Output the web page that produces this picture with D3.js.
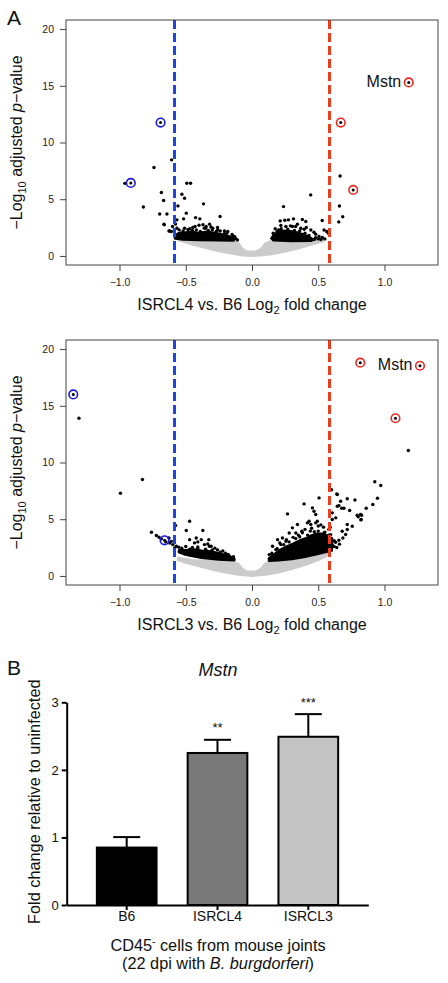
<!DOCTYPE html>
<html><head><meta charset="utf-8">
<script src="https://cdn.jsdelivr.net/npm/d3@7"></script>
<style>
body{margin:0;background:#fff}
svg{display:block}
text{font-family:"Liberation Sans",Arial,Helvetica,sans-serif}
</style>
</head><body>
<svg id="chart" width="448" height="983"></svg>
<script>
// ---------------- DATA ----------------
const xTicks = [-1.0, -0.5, 0.0, 0.5, 1.0];
const yTicks = [0, 5, 10, 15, 20];
const fcThreshold = 0.585;

// Panel A1: ISRCL4 vs B6
const p1Label = "ISRCL4";
const p1Points = [
  [-0.96,6.4],[-0.74,7.8],[-0.607,8.47],[-0.82,4.32],[-0.684,5.59],[-0.667,4.88],[-0.697,3.7],[-0.642,3.7],
  [-0.662,2.74],[-0.627,2.2],[-0.609,2.15],[-0.529,5.44],[-0.509,5.09],[-0.559,4.41],[-0.492,6.41],[-0.464,6.41],
  [-0.366,4.59],[-0.241,3.47],[-0.567,3.18],[-0.577,2.82],[-0.496,3.77],[-0.516,3.27],[-0.426,3.38],[-0.394,3.27],
  [-0.32,2.8],[-0.60,2.6],[-0.567,2.44],[-0.509,2.44],[-0.484,2.32],[-0.447,2.5],[-0.346,2.59],[-0.296,2.44],
  [-0.259,2.29],[-0.208,2.2],[-0.183,2.15],[-0.40,2.7],[-0.43,2.6],[-0.37,2.75],[-0.26,2.5],[-0.15,1.9],
  [-0.13,1.7],[-0.54,2.0],[-0.56,1.9],[-0.58,1.75],[-0.665,2.8],[-0.62,2.2],[-0.35,2.45],[-0.31,2.55],
  [-0.55,2.3],[-0.47,2.4],[-0.42,2.3],[-0.36,2.45],[-0.3,2.3],[-0.24,2.2],[-0.19,2.0],[-0.14,1.75],
  [-0.52,2.2],[-0.45,2.25],[-0.39,2.15],[-0.33,2.25],[-0.27,2.15],[-0.21,1.95],[-0.12,1.5],[-0.11,1.4],
  [0.443,5.38],[0.238,4.35],[0.66,4.4],[0.665,7.05],[0.685,3.45],[0.655,3.0],[0.53,3.12],[0.213,3.09],
  [0.248,3.15],[0.275,3.18],[0.313,3.27],[0.38,3.21],[0.406,3.03],[0.343,2.8],[0.305,2.59],[0.218,2.68],
  [0.256,2.59],[0.368,2.44],[0.393,2.35],[0.444,2.29],[0.481,1.92],[0.544,2.29],[0.564,2.15],[0.531,1.62],
  [0.506,1.71],[0.468,2.09],[0.57,2.1],[0.58,1.95],[0.55,1.5],[0.50,1.5],[0.47,1.45],[0.20,2.3],
  [0.16,2.0],[0.16,1.7],[0.175,2.4],[0.29,2.65],[0.33,2.6],[0.41,2.5],[0.19,2.15],[0.22,2.4],
  [0.27,2.35],[0.32,2.25],[0.36,2.2],[0.4,2.0],[0.43,1.8],[0.15,1.55],[0.52,1.45],[0.48,1.6]
];
const p1Up = [[0.67,11.76,""],[0.764,5.82,""],[1.183,15.3,"Mstn"]];
const p1Down = [[-0.69,11.76,""],[-0.915,6.44,""]];
const p1GreyTop = [[-0.55,1.5],[-0.45,1.4],[-0.3,1.35],[-0.15,1.3],[-0.1,1.1],[-0.07,0.6],[-0.04,0.4],[0.03,0.4],[0.07,0.65],[0.1,1.1],[0.14,1.3],[0.3,1.3],[0.45,1.35],[0.54,1.45]];
const p1GreyBottom = [[0.54,1.3],[0.45,1.0],[0.35,0.65],[0.25,0.38],[0.15,0.15],[0.07,0.04],[0,0.0],[-0.07,0.04],[-0.15,0.2],[-0.25,0.4],[-0.35,0.7],[-0.45,1.0],[-0.55,1.35]];
const p1DenseLeftTop = [[-0.58,1.75],[-0.55,2.0],[-0.5,2.05],[-0.45,2.1],[-0.4,2.0],[-0.34,2.1],[-0.28,2.0],[-0.22,1.85],[-0.17,1.7],[-0.14,1.5]];
const p1DenseLeftBottom = [[-0.14,1.38],[-0.25,1.4],[-0.4,1.43],[-0.52,1.47],[-0.58,1.55]];
const p1DenseRightTop = [[0.16,1.75],[0.19,2.05],[0.23,2.2],[0.29,2.15],[0.34,2.05],[0.38,1.9],[0.42,1.7],[0.45,1.5]];
const p1DenseRightBottom = [[0.45,1.37],[0.3,1.33],[0.16,1.4]];

// Panel A2: ISRCL3 vs B6
const p2Label = "ISRCL3";
const p2Points = [
  [-1.306,13.9],[-0.993,7.29],[-0.827,8.5],[-0.471,4.82],[-0.577,4.44],[-0.496,4.0],[-0.371,4.0],[-0.759,3.85],
  [-0.722,3.56],[-0.702,3.41],[-0.684,3.27],[-0.627,3.35],[-0.609,3.05],[-0.597,2.76],[-0.571,2.61],[-0.584,2.47],
  [-0.552,2.53],[-0.421,3.35],[-0.383,3.2],[-0.326,3.2],[-0.409,3.0],[-0.359,2.76],[-0.334,2.82],[-0.308,2.61],
  [-0.534,2.17],[-0.509,1.94],[-0.17,1.73],[-0.146,1.59],[-0.471,3.2],[-0.434,2.91],[-0.321,2.61],[-0.409,2.56],
  [-0.65,3.0],[-0.62,2.9],[-0.50,2.6],[-0.45,2.5],[-0.26,2.3],[-0.22,2.2],[-0.20,2.0],[-0.28,2.45],
  [-0.53,2.45],[-0.47,2.35],[-0.41,2.45],[-0.35,2.35],[-0.3,2.3],[-0.24,2.1],[-0.18,1.9],[-0.14,1.7],
  [1.18,11.06],[0.927,8.3],[0.972,7.97],[0.947,6.85],[0.912,6.3],[0.862,5.97],[0.827,5.35],[0.794,5.35],
  [0.822,4.94],[0.777,6.7],[0.719,6.8],[0.64,7.23],[0.60,7.6],[0.644,7.18],[0.669,6.58],[0.656,6.2],
  [0.677,5.97],[0.694,5.97],[0.737,5.77],[0.819,5.41],[0.802,5.21],[0.824,4.97],[0.644,6.14],[0.606,5.56],
  [0.632,5.12],[0.606,4.97],[0.757,4.38],[0.719,4.53],[0.719,4.09],[0.681,3.94],[0.707,3.65],[0.686,3.35],
  [0.656,3.14],[0.631,2.97],[0.606,2.76],[0.576,2.47],[0.556,2.17],[0.594,3.64],[0.569,3.5],[0.519,3.2],
  [0.544,3.79],[0.268,5.47],[0.393,6.35],[0.506,6.88],[0.456,6.0],[0.468,5.7],[0.481,5.41],[0.431,4.82],
  [0.418,4.68],[0.444,4.53],[0.493,4.82],[0.481,4.68],[0.343,4.53],[0.305,4.24],[0.376,3.94],[0.331,3.79],
  [0.281,3.79],[0.193,3.2],[0.23,3.35],[0.155,2.61],[0.18,2.32],[0.13,1.88],[0.218,2.76],[0.256,3.06],
  [0.59,4.3],[0.58,4.1],[0.60,3.3],[0.62,3.1],[0.64,2.5],[0.66,2.8],[0.54,4.3],[0.52,4.5],
  [0.50,4.4],[0.45,4.2],[0.40,4.1],[0.38,3.8],[0.60,2.3],[0.62,2.6],[0.59,2.9],
  [0.15,2.0],[0.19,2.4],[0.24,2.75],[0.28,3.0],[0.33,3.3],[0.36,3.45],[0.42,3.6],[0.47,3.9],
  [0.5,3.95],[0.55,3.85],[0.58,3.6],[0.35,3.6],[0.31,3.4],[0.26,3.2],[0.21,2.9],[0.44,3.95]
];
const p2Up = [[0.817,18.8,""],[1.268,18.53,"Mstn"],[1.083,13.9,""]];
const p2Down = [[-1.349,16.0,""],[-0.66,3.14,""]];
const p2GreyTop = [[-0.56,1.6],[-0.45,1.4],[-0.3,1.35],[-0.15,1.3],[-0.1,1.05],[-0.07,0.6],[-0.04,0.4],[0.03,0.4],[0.07,0.65],[0.1,1.1],[0.14,1.3],[0.3,1.45],[0.45,1.75],[0.59,2.15]];
const p2GreyBottom = [[0.59,1.9],[0.5,1.4],[0.4,0.95],[0.3,0.6],[0.2,0.3],[0.1,0.1],[0,0],[-0.1,0.1],[-0.2,0.3],[-0.3,0.55],[-0.4,0.85],[-0.5,1.15],[-0.56,1.4]];
const p2DenseLeftTop = [[-0.55,2.25],[-0.5,2.25],[-0.44,2.3],[-0.38,2.2],[-0.32,2.15],[-0.26,2.0],[-0.2,1.8],[-0.15,1.6],[-0.135,1.5]];
const p2DenseLeftBottom = [[-0.135,1.4],[-0.25,1.47],[-0.38,1.63],[-0.48,1.85],[-0.55,2.1]];
const p2DenseRightTop = [[0.13,1.55],[0.17,1.9],[0.21,2.25],[0.26,2.55],[0.31,2.8],[0.36,3.1],[0.41,3.3],[0.45,3.55],[0.49,3.7],[0.53,3.7],[0.57,3.5],[0.6,3.2]];
const p2DenseRightBottom = [[0.6,2.25],[0.5,1.97],[0.4,1.72],[0.3,1.52],[0.2,1.4],[0.13,1.35]];

// Panel B: bar chart
const barCategories = ["B6", "ISRCL4", "ISRCL3"];
const barMeans = [0.85, 2.25, 2.49];
const barErrors = [0.155, 0.195, 0.335];
const barSignif = ["", "**", "***"];
const barTicks = [0, 1, 2, 3];

// ---------------- DRAWING ----------------
const svg = d3.select("#chart");
const FONT = '"Liberation Sans",Arial,Helvetica,sans-serif';

function volcano(top, d) {
  const x = d3.scaleLinear().domain([-1.404, 1.404]).range([66, 438]);
  const y = d3.scaleLinear().domain([-0.8, 20.8]).range([top + 245, top]);
  const g = svg.append("g");
  const line = d3.line().x(p => x(p[0])).y(p => y(p[1])).curve(d3.curveLinearClosed);

  g.append("path").attr("d", line(d.greyTop.concat(d.greyBottom)))
    .attr("fill", "#cbcbcb").attr("stroke", "#cbcbcb").attr("stroke-width", 2).attr("stroke-linejoin", "round");

  [[d.denseLT, d.denseLB], [d.denseRT, d.denseRB]].forEach(([t, b]) => {
    g.append("path").attr("d", line(t.concat(b)))
      .attr("fill", "#000").attr("stroke", "#000").attr("stroke-width", 3).attr("stroke-linejoin", "round");
  });

  g.selectAll("circle.pt").data(d.points).join("circle").attr("class", "pt")
    .attr("cx", p => x(p[0])).attr("cy", p => y(p[1])).attr("r", 1.7).attr("fill", "#000");

  // threshold lines
  [[-fcThreshold, "#1f45e0"], [fcThreshold, "#e8401e"]].forEach(([v, c]) => {
    g.append("line").attr("x1", x(v)).attr("x2", x(v)).attr("y1", top).attr("y2", top + 245)
      .attr("stroke", c).attr("stroke-width", 3).attr("stroke-dasharray", "9,4");
  });

  // highlighted genes
  [[d.up, "#e62a20"], [d.down, "#1a1ad8"]].forEach(([arr, c]) => {
    const gg = g.append("g");
    gg.selectAll("circle.ring").data(arr).join("circle").attr("class", "ring")
      .attr("cx", p => x(p[0])).attr("cy", p => y(p[1])).attr("r", 4.3)
      .attr("fill", "none").attr("stroke", c).attr("stroke-width", 1.6);
    gg.selectAll("circle.dot").data(arr).join("circle").attr("class", "dot")
      .attr("cx", p => x(p[0])).attr("cy", p => y(p[1])).attr("r", 1.5).attr("fill", "#000");
    gg.selectAll("text").data(arr.filter(p => p[2])).join("text")
      .attr("x", p => x(p[0]) - 7.5).attr("y", p => y(p[1]) + 4.5)
      .attr("text-anchor", "end").attr("font-size", 16).attr("fill", "#111").text(p => p[2]);
  });

  // box
  g.append("rect").attr("x", 66).attr("y", top).attr("width", 372).attr("height", 245)
    .attr("fill", "none").attr("stroke", "#444").attr("stroke-width", 1);

  // axes
  const ax = g.append("g").attr("transform", `translate(0,${top + 245})`)
    .call(d3.axisBottom(x).tickValues(xTicks).tickSize(6).tickPadding(8).tickFormat(d3.format(".1f")));
  const ay = g.append("g").attr("transform", `translate(66,0)`)
    .call(d3.axisLeft(y).tickValues(yTicks).tickSize(6).tickPadding(6).tickFormat(d3.format("d")));
  [ax, ay].forEach(a => {
    a.select(".domain").remove();
    a.selectAll("line").attr("stroke", "#444");
    a.selectAll("text").attr("font-size", 10.5).attr("fill", "#222").attr("font-family", FONT);
  });

  // x title
  const xt = g.append("text").attr("x", 252).attr("y", top + 290).attr("text-anchor", "middle")
    .attr("font-size", 16).attr("fill", "#111");
  xt.append("tspan").text(d.label + " vs. B6 Log");
  xt.append("tspan").attr("font-size", 11).attr("dy", 4).text("2");
  xt.append("tspan").attr("dy", -4).text(" fold change");

  // y title
  const yt = g.append("text").attr("transform", `translate(22,${top + 122.5}) rotate(-90)`)
    .attr("text-anchor", "middle").attr("font-size", 16).attr("fill", "#111");
  yt.append("tspan").text("\u2212Log");
  yt.append("tspan").attr("font-size", 11).attr("dy", 4).text("10");
  yt.append("tspan").attr("dy", -4).text(" adjusted ");
  yt.append("tspan").attr("font-style", "italic").text("p");
  yt.append("tspan").text("\u2212value");
}

volcano(20, {label: p1Label, points: p1Points, up: p1Up, down: p1Down,
  greyTop: p1GreyTop, greyBottom: p1GreyBottom,
  denseLT: p1DenseLeftTop, denseLB: p1DenseLeftBottom, denseRT: p1DenseRightTop, denseRB: p1DenseRightBottom});
volcano(340, {label: p2Label, points: p2Points, up: p2Up, down: p2Down,
  greyTop: p2GreyTop, greyBottom: p2GreyBottom,
  denseLT: p2DenseLeftTop, denseLB: p2DenseLeftBottom, denseRT: p2DenseRightTop, denseRB: p2DenseRightBottom});

// panel letters
svg.append("text").attr("x", 7).attr("y", 25).attr("font-size", 21).attr("fill", "#111").text("A");
svg.append("text").attr("x", 7).attr("y", 675).attr("font-size", 21).attr("fill", "#111").text("B");

// ---- bar chart ----
const xb = d3.scaleBand().domain(barCategories).range([66.7, 368.3]).paddingInner(0.3205).paddingOuter(0.321);
const yb = d3.scaleLinear().domain([0, 3]).range([905, 702.3]);
const fill = d3.scaleOrdinal(barCategories, ["#000000", "#787878", "#c3c3c3"]);
const bars = barCategories.map((c, i) => ({c, m: barMeans[i], e: barErrors[i], s: barSignif[i]}));
const gb = svg.append("g");

gb.selectAll("line.err").data(bars).join("line").attr("class", "err")
  .attr("x1", d => xb(d.c) + xb.bandwidth() / 2).attr("x2", d => xb(d.c) + xb.bandwidth() / 2)
  .attr("y1", d => yb(d.m)).attr("y2", d => yb(d.m + d.e)).attr("stroke", "#000").attr("stroke-width", 2);
gb.selectAll("line.cap").data(bars).join("line").attr("class", "cap")
  .attr("x1", d => xb(d.c) + xb.bandwidth() / 2 - 13.5).attr("x2", d => xb(d.c) + xb.bandwidth() / 2 + 13.5)
  .attr("y1", d => yb(d.m + d.e)).attr("y2", d => yb(d.m + d.e)).attr("stroke", "#000").attr("stroke-width", 2);
gb.selectAll("rect").data(bars).join("rect")
  .attr("x", d => xb(d.c) + 1).attr("width", xb.bandwidth() - 2)
  .attr("y", d => yb(d.m)).attr("height", d => yb(0) - yb(d.m))
  .attr("fill", d => fill(d.c)).attr("stroke", "#000").attr("stroke-width", 2);
gb.selectAll("text.sig").data(bars).join("text").attr("class", "sig")
  .attr("x", d => xb(d.c) + xb.bandwidth() / 2).attr("y", d => yb(d.m + d.e) - 7.5)
  .attr("text-anchor", "middle").attr("font-size", 13).attr("fill", "#111").text(d => d.s);

const byAxis = gb.append("g").attr("transform", "translate(66.7,0)")
  .call(d3.axisLeft(yb).tickValues(barTicks).tickSize(5).tickSizeOuter(0).tickPadding(3).tickFormat(d3.format("d")));
const bxAxis = gb.append("g").attr("transform", "translate(0,905)")
  .call(d3.axisBottom(xb).tickSize(5).tickSizeOuter(0).tickPadding(1.5));
[byAxis, bxAxis].forEach(a => {
  a.select(".domain").attr("stroke", "#000").attr("stroke-width", 2);
  a.selectAll("line").attr("stroke", "#000").attr("stroke-width", 2);
  a.selectAll("text").attr("fill", "#111").attr("font-family", FONT);
});
byAxis.selectAll("text").attr("font-size", 13);
bxAxis.selectAll("text").attr("font-size", 14);

// titles
svg.append("text").attr("x", 218).attr("y", 676).attr("text-anchor", "middle")
  .attr("font-size", 18).attr("font-style", "italic").attr("fill", "#111").text("Mstn");
svg.append("text").attr("transform", "translate(40,801.7) rotate(-90)").attr("text-anchor", "middle")
  .attr("font-size", 16.3).attr("fill", "#111").text("Fold change relative to uninfected");
const t1 = svg.append("text").attr("x", 218).attr("y", 950.5).attr("text-anchor", "middle")
  .attr("font-size", 16.3).attr("fill", "#111");
t1.append("tspan").text("CD45");
t1.append("tspan").attr("font-size", 10).attr("dy", -6).text("-");
t1.append("tspan").attr("dy", 6).text(" cells from mouse joints");
const t2 = svg.append("text").attr("x", 218).attr("y", 969).attr("text-anchor", "middle")
  .attr("font-size", 16.3).attr("fill", "#111");
t2.append("tspan").text("(22 dpi with ");
t2.append("tspan").attr("font-style", "italic").text("B. burgdorferi");
t2.append("tspan").text(")");
</script>
</body></html>
